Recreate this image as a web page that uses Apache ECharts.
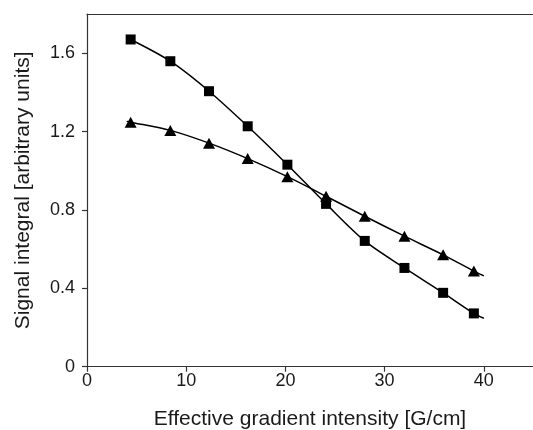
<!DOCTYPE html>
<html><head><meta charset="utf-8">
<script src="https://cdn.jsdelivr.net/npm/echarts@6/dist/echarts.min.js"></script>
<style>html,body{margin:0;padding:0;background:#fff}#c{width:533px;height:430px}</style>
</head><body><div id="c"></div>
<script>
// Measured data
var gradientX = [4.4, 8.4, 12.3, 16.2, 20.2, 24.1, 28.0, 32.0, 35.9, 39.0];
var squareY   = [1.670, 1.559, 1.406, 1.227, 1.031, 0.831, 0.642, 0.504, 0.377, 0.272];
var triangleY = [1.248, 1.206, 1.141, 1.062, 0.970, 0.870, 0.768, 0.666, 0.571, 0.488];
// Fitted-curve end points
var squareCurveEnd   = [40.0, 0.247];
var triangleCurveStart = [4.0, 1.252];
var triangleCurveEnd = [40.0, 0.464];
var xTicks = [0, 10, 20, 30, 40];
var yTicks = [0, 0.4, 0.8, 1.2, 1.6];

function pairs(xs, ys){ return xs.map(function(x,i){ return [x, ys[i]]; }); }
var sqPts = pairs(gradientX, squareY);
var trPts = pairs(gradientX, triangleY);
var sqCurve = sqPts.concat([squareCurveEnd]);
var trCurve = [triangleCurveStart].concat(trPts, [triangleCurveEnd]);

var font = 'Liberation Sans, Arial, sans-serif';
var chart = echarts.init(document.getElementById('c'), null, {renderer:'canvas'});
chart.setOption({
  animation:false,
  grid:{left:87, top:14, width:446, height:352.7, show:false, containLabel:false, outerBoundsMode:'none'},
  xAxis:[{type:'value', min:0, max:44.96, interval:10,
    name:'Effective gradient intensity [G/cm]', nameLocation:'middle', nameGap:42,
    nameTextStyle:{fontFamily:font, fontSize:21, color:'#1a1a1a'},
    axisLine:{show:true, onZero:false, lineStyle:{color:'#333', width:1.2}},
    axisTick:{show:true, length:5, inside:false, lineStyle:{color:'#333', width:1.2},
      customValues: xTicks},
    axisLabel:{fontFamily:font, fontSize:18, color:'#1a1a1a', margin:5, customValues: xTicks},
    splitLine:{show:false}},
   {type:'value', position:'top', min:0, max:44.96,
    axisLine:{show:true, onZero:false, lineStyle:{color:'#333', width:1.2}},
    axisTick:{show:false}, axisLabel:{show:false}, splitLine:{show:false}}],
  yAxis:{type:'value', min:0, max:1.8, interval:0.4,
    name:'Signal integral [arbitrary units]', nameLocation:'middle', nameGap:53,
    nameTextStyle:{fontFamily:font, fontSize:21, color:'#1a1a1a'},
    axisLine:{show:true, onZero:false, lineStyle:{color:'#333', width:1.2}},
    axisTick:{show:true, length:5, lineStyle:{color:'#333', width:1.2}, customValues: yTicks},
    axisLabel:{fontFamily:font, fontSize:18, color:'#1a1a1a', margin:12, customValues: yTicks,
      formatter:function(v){ return v===0 ? '0' : v.toFixed(1); }},
    splitLine:{show:false}},
  series:[
    {type:'line', data:sqCurve, smooth:0.3, showSymbol:false, symbol:'none',
      lineStyle:{color:'#000', width:1.5}, z:2},
    {type:'line', data:trCurve, smooth:0.3, showSymbol:false, symbol:'none',
      lineStyle:{color:'#000', width:1.5}, z:2},
    {type:'scatter', data:sqPts, symbol:'rect', symbolSize:10,
      itemStyle:{color:'#000', opacity:1}, z:3},
    {type:'scatter', data:trPts, symbol:'triangle', symbolSize:[12,11],
      itemStyle:{color:'#000', opacity:1}, z:3}
  ]
});
</script></body></html>
